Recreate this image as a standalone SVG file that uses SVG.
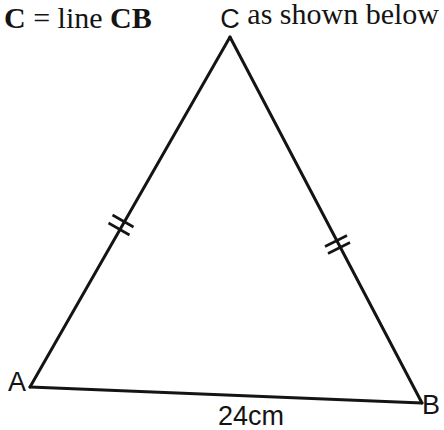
<svg xmlns="http://www.w3.org/2000/svg" width="444" height="430" viewBox="0 0 444 430">
<style>
.edge{stroke:#141414;stroke-width:3;fill:none;stroke-linecap:round;stroke-linejoin:miter}
.tick{stroke:#141414;stroke-width:2.6;fill:none}
.lbl{font-family:"Liberation Sans",Arial,sans-serif;font-size:27px;fill:#141414}
.hdr{font-family:"Liberation Serif","Times New Roman",serif;font-size:30px;fill:#141414}
</style>
<rect width="444" height="430" fill="#ffffff"/>
<text class="hdr" x="4" y="28"><tspan font-weight="bold">C</tspan> = line <tspan font-weight="bold">CB</tspan></text>
<text class="hdr" x="439" y="24" font-size="26" text-anchor="end">as shown below</text>
<g id="connectors">
<path class="edge" d="M30,387 L230,37"/>
<path class="edge" d="M230,37 L422,403"/>
<path class="edge" d="M30,387 L422,403"/>
<g id="ticks">
<line class="tick" x1="112.5" y1="215" x2="133.5" y2="227"/>
<line class="tick" x1="108.5" y1="223" x2="129.5" y2="235"/>
<line class="tick" x1="325" y1="246.5" x2="347" y2="235.5"/>
<line class="tick" x1="328" y1="253.5" x2="350" y2="242.5"/>
</g>
</g>
<g id="nodeC"><text class="lbl" x="230" y="28" text-anchor="middle" font-size="24">C</text></g>
<g id="nodeA"><text class="lbl" x="8" y="391" font-size="28">A</text></g>
<g id="nodeB"><text class="lbl" x="422" y="414" font-size="28">B</text></g>
<g id="base-label"><text class="lbl" x="251" y="425" text-anchor="middle" font-size="28">24cm</text></g>
</svg>
